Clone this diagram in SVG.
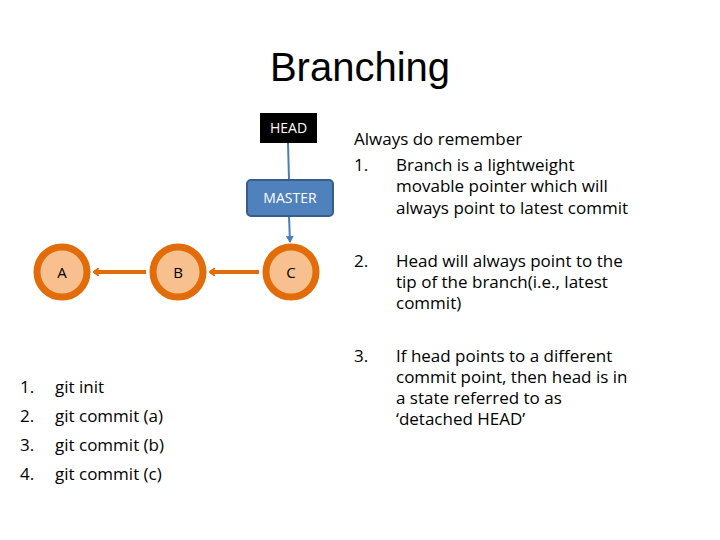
<svg xmlns="http://www.w3.org/2000/svg" width="720" height="540" viewBox="0 0 720 540">
<style>
text{font-family:"Open Sans","Liberation Sans",Arial,sans-serif;fill:#000}
.c{fill:#f8c08f;stroke:#e36c0a;stroke-width:7}
.t{font-size:17px}
.e{stroke:#e36c0a;stroke-width:4;fill:none}
.b{stroke:#4a7ebb;stroke-width:2;fill:none}
</style>
<defs>
<marker id="oa" markerWidth="6" markerHeight="8" refX="5" refY="4" orient="auto" markerUnits="userSpaceOnUse" viewBox="0 0 6 8"><path d="M0,0 L5,4 L0,8" fill="none" stroke="#e36c0a" stroke-width="2"/></marker>
<marker id="ba" markerWidth="8" markerHeight="8" refX="6" refY="4" orient="auto" markerUnits="userSpaceOnUse"><path d="M0,0 L7,4 L0,8z" fill="#4a7ebb"/></marker>
</defs>
<rect width="720" height="540" fill="#fff"/>
<text x="360" y="81" font-size="40" text-anchor="middle" style="font-family:'Liberation Sans',Arial,sans-serif">Branching</text>
<g id="connectors">
<line class="e" x1="146" y1="272" x2="94" y2="272" marker-end="url(#oa)"/>
<line class="e" x1="259" y1="272" x2="210" y2="272" marker-end="url(#oa)"/>
<line class="b" x1="288" y1="143" x2="289" y2="179"/>
<line class="b" x1="289" y1="216" x2="290" y2="242" marker-end="url(#ba)"/>
</g>
<g id="A"><circle class="c" cx="62" cy="272" r="25"/><text x="62" y="278" font-size="15" text-anchor="middle">A</text></g>
<g id="B"><circle class="c" cx="178" cy="272" r="25"/><text x="178" y="278" font-size="15" text-anchor="middle">B</text></g>
<g id="C"><circle class="c" cx="291" cy="272" r="25"/><text x="291" y="278" font-size="15" text-anchor="middle">C</text></g>
<g id="HEAD"><rect x="260" y="113" width="57" height="30" fill="#000"/><text x="288.5" y="133" font-size="14" text-anchor="middle" style="fill:#fff">HEAD</text></g>
<g id="MASTER"><rect x="247" y="180" width="86" height="36" rx="4" fill="#4f81bd" stroke="#385d8a" stroke-width="2"/><text x="290" y="203" font-size="14" text-anchor="middle" style="fill:#fff">MASTER</text></g>
<g id="notes" class="t">
<text x="354" y="145">Always do remember</text>
<text x="354" y="171">1.</text><text x="396" y="171">Branch is a lightweight</text>
<text x="396" y="192">movable pointer which will</text>
<text x="396" y="214">always point to latest commit</text>
<text x="354" y="267">2.</text><text x="396" y="267">Head will always point to the</text>
<text x="396" y="288">tip of the branch(i.e., latest</text>
<text x="396" y="309">commit)</text>
<text x="354" y="362">3.</text><text x="396" y="362">If head points to a different</text>
<text x="396" y="383">commit point, then head is in</text>
<text x="396" y="404">a state referred to as</text>
<text x="396" y="425">‘detached HEAD’</text>
</g>
<g id="steps" class="t">
<text x="20" y="393">1.</text><text x="55" y="393">git init</text>
<text x="20" y="422">2.</text><text x="55" y="422">git commit (a)</text>
<text x="20" y="451">3.</text><text x="55" y="451">git commit (b)</text>
<text x="20" y="480">4.</text><text x="55" y="480">git commit (c)</text>
</g>
</svg>
